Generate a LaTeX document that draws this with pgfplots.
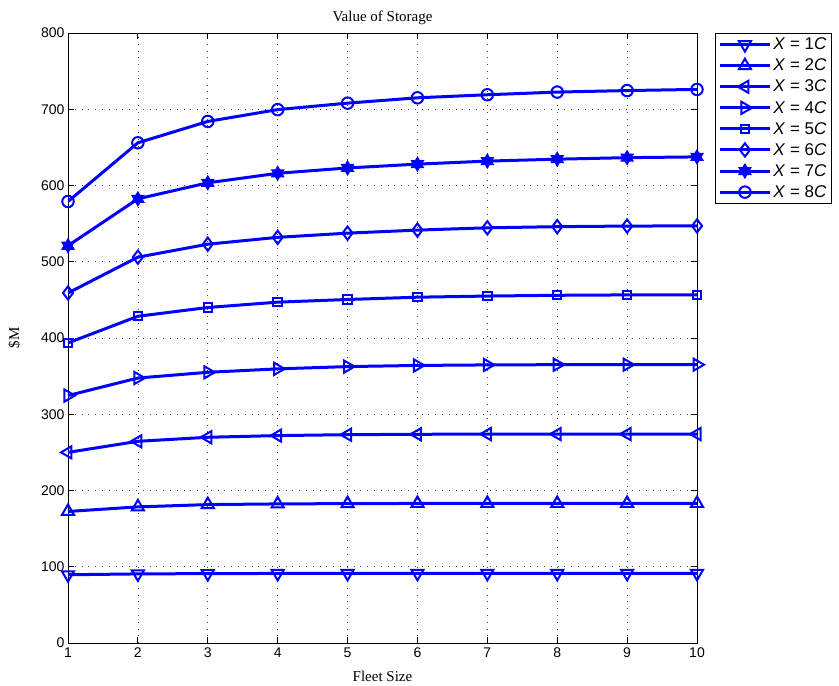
\documentclass[border=0pt]{standalone}
\usepackage{fontspec}
\setmainfont{Liberation Serif}
\setsansfont{Liberation Sans}
\usepackage{pgfplots}
\usepackage{pgfplotstable}
\pgfplotsset{compat=1.18}
\pgfdeclareplotmark{hexagram}{%
 \pgfpathmoveto{\pgfpointpolar{90}{\pgfplotmarksize}}%
 \pgfpathlineto{\pgfpointpolar{210}{\pgfplotmarksize}}%
 \pgfpathlineto{\pgfpointpolar{330}{\pgfplotmarksize}}%
 \pgfpathclose
 \pgfpathmoveto{\pgfpointpolar{270}{\pgfplotmarksize}}%
 \pgfpathlineto{\pgfpointpolar{30}{\pgfplotmarksize}}%
 \pgfpathlineto{\pgfpointpolar{150}{\pgfplotmarksize}}%
 \pgfpathclose
 \pgfusepathqfillstroke}
\definecolor{mblue}{RGB}{0,0,255}
\pgfplotstableread{
x s1 s2 s3 s4 s5 s6 s7 s8
1 89.5 172.5 250 324.5 393.5 459 521 579
2 90.6 178.5 264.5 347.5 428.5 506 582.5 656
3 91 181.5 269.8 355 440 523 603.5 684
4 91.2 182.4 272 359.5 447 532 616 699.5
5 91.3 182.8 273.2 362.5 450.5 537.5 623 708
6 91.4 183 273.7 364 453.5 541.5 628 715
7 91.4 183 274 364.7 455 544.5 632 719
8 91.4 183 274 365 456 546 634.5 722.5
9 91.4 183 274 365 456.5 546.8 636.5 724.5
10 91.4 183 274 365 456.5 547 637.5 726
}\data
\begin{document}
\begin{tikzpicture}
\begin{axis}[
  name=a,
  scale only axis,
  width=629pt, height=610pt,
  xmin=1, xmax=10, ymin=0, ymax=800,
  xtick={1,...,10}, ytick={0,100,...,800},
  axis line style={line width=0.9pt},
  tick style={line width=0.8pt, black},
  major tick length=6pt,
  tick align=inside,
  grid=major,
  major grid style={black!75, line width=0.7pt, dash pattern=on 0.8pt off 6pt},
  /pgf/number format/assume math mode=true,
  ticklabel style={font=\sffamily\fontsize{14}{14}\selectfont},
  xticklabel style={yshift=-1pt},
  title={Value of Storage},
  title style={font=\fontsize{15}{15}\selectfont, yshift=-1pt},
  xlabel={Fleet Size},
  xlabel style={font=\fontsize{15}{15}\selectfont, yshift=-7pt},
  ylabel={\$M},
  ylabel style={font=\fontsize{15}{15}\selectfont, yshift=14pt},
  every axis plot/.append style={mblue, line width=3pt},
  mark size=7pt,
  legend style={at={(1.0286,1)}, anchor=north west, draw=black, line width=0.9pt,
    font=\sffamily\fontsize{17}{17}\selectfont, cells={anchor=west},
    row sep=3.7pt, inner xsep=3pt, inner ysep=2.5pt},
  legend image code/.code={%
    \draw[#1, mark repeat=2, mark phase=2] plot coordinates {(0pt,0pt) (25pt,0pt) (50pt,0pt)};},
]
\addplot[mblue, mark=triangle, mark options={rotate=180, line width=2pt, solid}] table[x=x,y=s1]{\data};
\addlegendentry{\textit{X} = 1\textit{C}}
\addplot[mblue, mark=triangle, mark options={line width=2pt, solid}] table[x=x,y=s2]{\data};
\addlegendentry{\textit{X} = 2\textit{C}}
\addplot[mblue, mark=triangle, mark options={rotate=90, line width=2pt, solid}] table[x=x,y=s3]{\data};
\addlegendentry{\textit{X} = 3\textit{C}}
\addplot[mblue, mark=triangle, mark options={rotate=-90, line width=2pt, solid}] table[x=x,y=s4]{\data};
\addlegendentry{\textit{X} = 4\textit{C}}
\addplot[mblue, mark=square, mark options={line width=2pt, solid, scale=0.6}] table[x=x,y=s5]{\data};
\addlegendentry{\textit{X} = 5\textit{C}}
\addplot[mblue, mark=diamond, mark options={line width=2pt, solid, scale=0.95}] table[x=x,y=s6]{\data};
\addlegendentry{\textit{X} = 6\textit{C}}
\addplot[mblue, mark=hexagram, mark options={line width=1.4pt, solid, fill=mblue, scale=0.95}] table[x=x,y=s7]{\data};
\addlegendentry{\textit{X} = 7\textit{C}}
\addplot[mblue, mark=o, mark options={line width=2pt, solid, scale=0.82}] table[x=x,y=s8]{\data};
\addlegendentry{\textit{X} = 8\textit{C}}
\end{axis}
\path ([shift={(-68pt,-43pt)}]a.south west) rectangle ([shift={(142pt,33pt)}]a.north east);
\end{tikzpicture}
\end{document}
